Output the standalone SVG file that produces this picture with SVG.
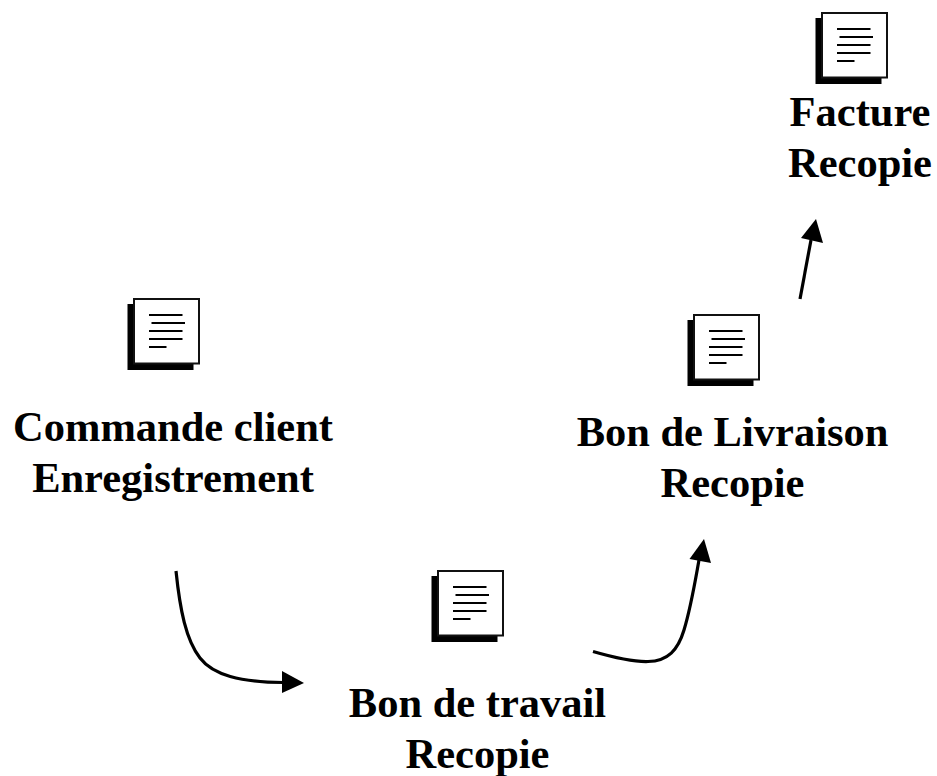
<svg xmlns="http://www.w3.org/2000/svg" width="937" height="776" viewBox="0 0 937 776">
<style>
.lbl{font-family:"Liberation Serif","Times New Roman",serif;font-weight:bold;font-size:42.500px;fill:#000;text-anchor:middle}
.conn{fill:none;stroke:#000;stroke-width:3.200;stroke-linecap:butt}
.ln{stroke:#000;stroke-width:2}
</style>
<defs>
<g id="doc">
<rect x="127.500" y="304" width="66" height="66" fill="#000"/>
<rect x="134" y="299" width="65" height="64.500" fill="#fff" stroke="#111" stroke-width="2"/>
<path class="ln" d="M149 315H182.500M151.500 323H185M149 331H182.500M149 339H182.500M149 347H166.500"/>
</g>
</defs>
<rect width="937" height="776" fill="#fff"/>
<g id="connectors">
<path class="conn" d="M176 571C180 610 186 640 200 658C213 675 240 682 283 682.500"/>
<polygon points="282,671 304,683 282,693"/>
<path class="conn" d="M593 651.500C612 657 632 662 648 661.500C668 661 678 650 684 630C691 607 695 582 699 560"/>
<polygon points="689.500,559 704,539 711,563"/>
<path class="conn" d="M800 299L811 240"/>
<polygon points="801,238 816,219 823,243"/>
</g>
<g id="node-commande"><use href="#doc"/>
<text class="lbl" x="173" y="441">Commande client</text>
<text class="lbl" x="173" y="492">Enregistrement</text></g>
<g id="node-travail"><use href="#doc" x="304" y="272"/>
<text class="lbl" x="477.500" y="717">Bon de travail</text>
<text class="lbl" x="477.500" y="768">Recopie</text></g>
<g id="node-livraison"><use href="#doc" x="560" y="16"/>
<text class="lbl" x="732.500" y="446">Bon de Livraison</text>
<text class="lbl" x="732.500" y="497">Recopie</text></g>
<g id="node-facture"><use href="#doc" x="688" y="-286"/>
<text class="lbl" x="860" y="126">Facture</text>
<text class="lbl" x="860" y="177">Recopie</text></g>
</svg>
